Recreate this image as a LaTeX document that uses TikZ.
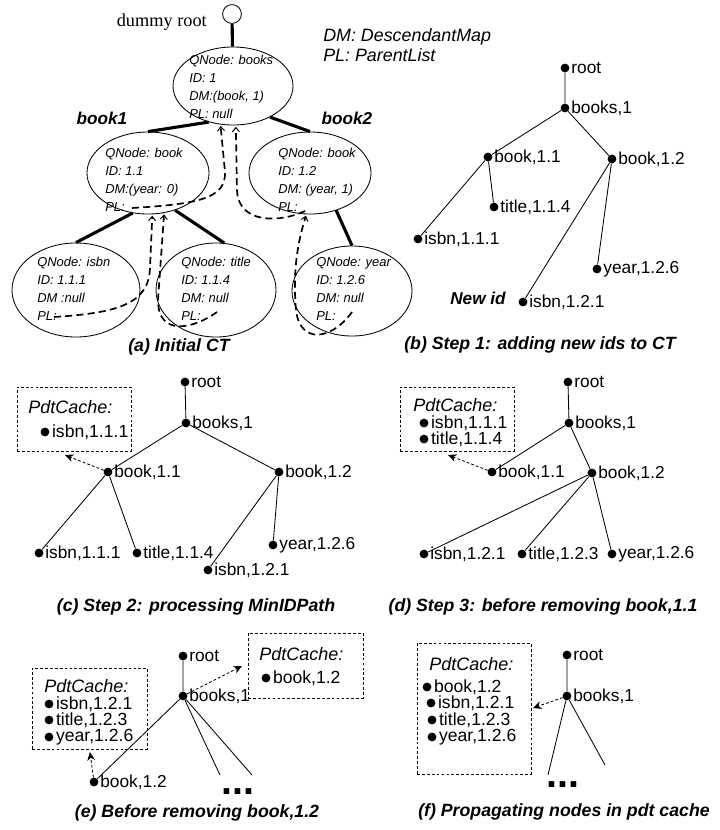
\documentclass[tikz,border=0pt]{standalone}
\usepackage{fontspec}
\setmainfont{Liberation Sans}
\newfontfamily\timesfont{Liberation Serif}
\usetikzlibrary{arrows.meta,positioning,calc,shapes.geometric}

\begin{document}
\begin{tikzpicture}[x=0.025cm, y=-0.025cm,
  qnode/.style={draw, ellipse, line width=0.6pt, inner sep=0pt},
  qtext/.style={align=left, anchor=west, inner sep=0pt, font=\fontsize{9.2}{12.8}\selectfont\itshape},
  link/.style={line width=2.2pt},
  plink/.style={line width=1.2pt, dash pattern=on 5pt off 3pt, -{Straight Barb[length=3pt,width=5pt,line width=0.7pt]}, shorten >=1pt},
  tnode/.style={circle, fill, inner sep=0pt, minimum size=0.22cm},
  lbl/.style={font=\fontsize{12.3}{14}\selectfont, inner sep=1pt},
  clbl/.style={font=\fontsize{12.5}{14}\selectfont, inner sep=0pt, label distance=1.5pt},
  tline/.style={line width=0.6pt},
  cache/.style={draw, dash pattern=on 2pt off 1.5pt, line width=0.5pt, inner sep=0pt},
  ctitle/.style={anchor=west, inner sep=0pt, font=\fontsize{12.8}{15}\selectfont\itshape},
  carrow/.style={dash pattern=on 2pt off 1.5pt, line width=0.6pt, -{Stealth[length=6pt,width=5.5pt]}},
  captxt/.style={font=\fontsize{12.6}{15}\selectfont\bfseries\itshape},
  bolddots/.style={font=\fontsize{28}{28}\selectfont\bfseries, inner sep=0pt}
]
\useasboundingbox (0,0) rectangle (719,830);

% (a) initial CT
\node[draw, circle, line width=0.6pt, minimum size=0.47cm, inner sep=0pt] (droot) at (232,14) {};
\node[anchor=east, inner sep=0pt, font=\timesfont\fontsize{13}{15}\selectfont] (dlabel) at (207,22) {dummy root};
\node[anchor=west, align=left, inner sep=0pt, font=\fontsize{12.7}{14.2}\selectfont\itshape] (legend) at (323,45) {DM: DescendantMap\\PL: ParentList};

\node[qnode, minimum width=3.0cm, minimum height=1.95cm] (books) at (233,86) {};
\node[qnode, minimum width=3.05cm, minimum height=2.05cm] (b11) at (148,173) {};
\node[qnode, minimum width=3.05cm, minimum height=2.05cm] (b12) at (310,173) {};
\node[qnode, minimum width=3.2cm, minimum height=2.35cm] (isbn) at (76,290) {};
\node[qnode, minimum width=3.0cm, minimum height=2.35cm] (title) at (216,290) {};
\node[qnode, minimum width=3.0cm, minimum height=2.25cm] (year) at (352,291) {};

\node[qtext] (tbooks) at (189,87) {QNode: books\\ID: 1\\DM:(book, 1)\\PL: null};
\node[qtext] (tb11) at (105,180) {QNode: book\\ID: 1.1\\DM:(year: 0)\\PL:};
\node[qtext] (tb12) at (278,180) {QNode: book\\ID: 1.2\\DM: (year, 1)\\PL:};
\node[qtext] (tisbn) at (37,289) {QNode: isbn\\ID: 1.1.1\\DM :null\\PL:};
\node[qtext] (ttitle) at (181,289) {QNode: title\\ID: 1.1.4\\DM: null\\PL:};
\node[qtext] (tyear) at (316,289) {QNode: year\\ID: 1.2.6\\DM: null\\PL:};

\node[captxt, font=\fontsize{12.2}{14}\selectfont\bfseries\itshape] (lbook1) at (102,118) {book1};
\node[captxt, font=\fontsize{12.2}{14}\selectfont\bfseries\itshape] (lbook2) at (347,118) {book2};

\draw[link] (droot) -- (books);
\draw[link] (books.236) -- (b11.north);
\draw[link] (books.320) -- (b12.north);
\draw[link] (b11.249) -- (isbn.north);
\draw[link] (b11.306) -- (title.80);
\draw[link] (b12.305) -- (year.north);

\coordinate (pl11) at (132,208);
\coordinate (pl12) at (305,211);
\coordinate (plisbn) at (54,317);
\coordinate (pltitle) at (217,312);
\coordinate (plyear) at (352,312);
\draw[plink] (pl11) .. controls (200,204) and (226,198) .. (225,172) -- (books.252);
\draw[plink] (pl12) .. controls (280,223) and (238,224) .. (237,190) -- (books.274);
\draw[plink] (plisbn) .. controls (115,313) and (149,305) .. (150,268) -- (b11.276);
\draw[plink] (pltitle) .. controls (195,328) and (158,338) .. (158,300) -- (b11.292);
\draw[plink] (plyear) .. controls (332,340) and (300,345) .. (296,310) .. controls (292,265) and (300,235) .. (b12.265);

\node[captxt] (capa) at (179,347) {(a) Initial CT};

% (b) step 1
\node[tnode, label={[lbl]right:root}] (rootB) at (565,68) {};
\node[tnode, label={[lbl]right:{books,1}}] (booksB) at (565,108) {};
\node[tnode, label={[lbl]right:{book,1.1}}] (bkaB) at (488,157) {};
\node[tnode, label={[lbl]right:{book,1.2}}] (bkbB) at (612,159) {};
\node[tnode, label={[lbl]right:{title,1.1.4}}] (titleB) at (494,207) {};
\node[tnode, label={[lbl]right:{isbn,1.1.1}}] (isbnaB) at (418,239) {};
\node[tnode, label={[lbl]right:{year,1.2.6}}] (yearB) at (597,269) {};
\node[tnode, label={[lbl]right:{isbn,1.2.1}}] (isbnbB) at (523,302) {};
\node[captxt, font=\fontsize{12.2}{14}\selectfont\bfseries\itshape] (newid) at (478,298) {New id};
\draw[tline] (rootB) -- (booksB) (booksB) -- (bkaB) (booksB) -- (bkbB)
  (bkaB) -- (isbnaB) (bkaB) -- (titleB) (bkbB) -- (isbnbB) (bkbB) -- (yearB);
\node[captxt] (capb) at (540,345) {(b) Step 1: adding new ids to CT};

% (c) step 2
\node[cache, minimum width=2.85cm, minimum height=1.6cm] (cacheC) at (74,419) {};
\node[ctitle] (ctC) at (28,407) {PdtCache:};
\node[tnode, label={[clbl]right:{isbn,1.1.1}}] (ciC) at (45,432) {};
\node[tnode, label={[lbl]right:root}] (rootC) at (185,382) {};
\node[tnode, label={[lbl]right:{books,1}}] (booksC) at (186,423) {};
\node[tnode, label={[lbl]right:{book,1.1}}] (bkaC) at (108,472) {};
\node[tnode, label={[lbl]right:{book,1.2}}] (bkbC) at (279,472) {};
\node[tnode, label={[lbl]right:{isbn,1.1.1}}] (isbnaC) at (39,553) {};
\node[tnode, label={[lbl]right:{title,1.1.4}}] (titleC) at (137,553) {};
\node[tnode, label={[lbl]right:{year,1.2.6}}] (yearC) at (273,545) {};
\node[tnode, label={[lbl]right:{isbn,1.2.1}}] (isbnbC) at (208,570) {};
\draw[tline] (rootC) -- (booksC) (booksC) -- (bkaC) (booksC) -- (bkbC)
  (bkaC) -- (isbnaC) (bkaC) -- (titleC) (bkbC) -- (isbnbC) (bkbC) -- (yearC);
\coordinate (tipC) at (65,455);
\draw[carrow] (bkaC) -- (tipC);
\node[captxt] (capc) at (196,607) {(c) Step 2: processing MinIDPath};

% (d) step 3
\node[cache, minimum width=2.85cm, minimum height=1.6cm] (cacheD) at (457,419) {};
\node[ctitle] (ctD) at (413,405) {PdtCache:};
\node[tnode, label={[clbl]right:{isbn,1.1.1}}] (ciaD) at (424,423) {};
\node[tnode, label={[clbl]right:{title,1.1.4}}] (cibD) at (424,439) {};
\node[tnode, label={[lbl]right:root}] (rootD) at (568,382) {};
\node[tnode, label={[lbl]right:{books,1}}] (booksD) at (569,423) {};
\node[tnode, label={[lbl]right:{book,1.1}}] (bkaD) at (492,472) {};
\node[tnode, label={[lbl]right:{book,1.2}}] (bkbD) at (592,473) {};
\node[tnode, label={[lbl]right:{isbn,1.2.1}}] (isbnD) at (424,554) {};
\node[tnode, label={[lbl]right:{title,1.2.3}}] (titleD) at (522,554) {};
\node[tnode, label={[lbl]right:{year,1.2.6}}] (yearD) at (612,554) {};
\draw[tline] (rootD) -- (booksD) (booksD) -- (bkaD) (booksD) -- (bkbD)
  (bkbD) -- (isbnD) (bkbD) -- (titleD) (bkbD) -- (yearD);
\coordinate (tipD) at (448,455);
\draw[carrow] (bkaD) -- (tipD);
\node[captxt] (capd) at (543,607) {(d) Step 3: before removing book,1.1};

% (e) before removing book,1.2
\node[cache, minimum width=2.875cm, minimum height=2.025cm] (cacheEa) at (89.5,708.5) {};
\node[ctitle] (ctEa) at (44,686) {PdtCache:};
\node[tnode, label={[clbl]right:{isbn,1.2.1}}] (ciaE) at (49,704) {};
\node[tnode, label={[clbl]right:{title,1.2.3}}] (cibE) at (49,720) {};
\node[tnode, label={[clbl]right:{year,1.2.6}}] (cicE) at (49,737) {};
\node[cache, minimum width=2.875cm, minimum height=1.625cm] (cacheEb) at (305.5,665.5) {};
\node[ctitle] (ctEb) at (259,654) {PdtCache:};
\node[tnode, label={[clbl]right:{book,1.2}}] (cidE) at (266,678) {};
\node[tnode, label={[lbl]right:root}] (rootE) at (183,656) {};
\node[tnode, label={[lbl]right:{books,1}}] (booksE) at (183,696) {};
\node[tnode, label={[lbl]right:{book,1.2}}] (bkE) at (94,782) {};
\coordinate (endEa) at (220,775);
\coordinate (endEb) at (252,775);
\draw[tline] (rootE) -- (booksE) (booksE) -- (bkE) (booksE) -- (endEa) (booksE) -- (endEb);
\node[bolddots] (dotsE) at (238,792) {...};
\coordinate (tipEa) at (90,752);
\coordinate (tipEb) at (242,666);
\draw[carrow] (bkE) -- (tipEa);
\draw[carrow] (booksE) -- (tipEb);
\node[captxt] (cape) at (197,813) {(e) Before removing book,1.2};

% (f) propagating
\node[cache, minimum width=2.85cm, minimum height=3.275cm] (cacheF) at (474,708.5) {};
\node[ctitle] (ctF) at (429,664) {PdtCache:};
\node[tnode, label={[clbl]right:{book,1.2}}] (ciaF) at (427,687) {};
\node[tnode, label={[clbl]right:{isbn,1.2.1}}] (cibF) at (431,703) {};
\node[tnode, label={[clbl]right:{title,1.2.3}}] (cicF) at (432,720) {};
\node[tnode, label={[clbl]right:{year,1.2.6}}] (cidF) at (432,737) {};
\node[tnode, label={[lbl]right:root}] (rootF) at (567,655) {};
\node[tnode, label={[lbl]right:{books,1}}] (booksF) at (567,696) {};
\coordinate (endFa) at (548,775);
\coordinate (endFb) at (605,765);
\draw[tline] (rootF) -- (booksF) (booksF) -- (endFa) (booksF) -- (endFb);
\node[bolddots] (dotsF) at (563,785) {...};
\coordinate (tipF) at (533,708);
\draw[carrow] (booksF) -- (tipF);
\node[captxt] (capf) at (564,812) {(f) Propagating nodes in pdt cache};

\end{tikzpicture}
\end{document}
